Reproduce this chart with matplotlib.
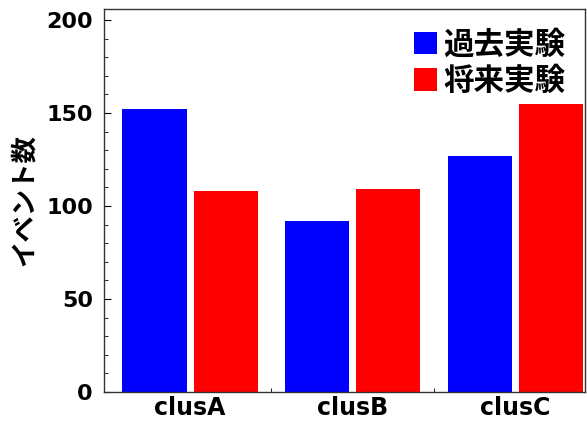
import matplotlib
matplotlib.use('Agg')
import matplotlib.pyplot as plt
import numpy as np
from matplotlib.patches import Patch

plt.rcParams['font.family'] = ['DejaVu Sans', 'Noto Sans CJK JP']

# データ
clusters = ['clusA', 'clusB', 'clusC']
past = [152, 92, 127]       # 過去実験
future = [108, 109, 155]    # 将来実験
series_labels = ['過去実験', '将来実験']
colors = ['#0000ff', '#ff0000']

fig = plt.figure(figsize=(5.87, 4.21), dpi=100)
ax = fig.add_axes([0.177, 0.069, 0.82, 0.91])

x = np.arange(len(clusters))
w = 0.395
off = 0.219
ax.bar(x - off, past, width=w, color=colors[0], zorder=2)
ax.bar(x + off, future, width=w, color=colors[1], zorder=2)

ax.set_xlim(-0.53, 2.43)
ax.set_ylim(0, 206)

# 目盛り
ax.set_yticks([0, 50, 100, 150, 200])
ax.set_yticks(np.arange(0, 210, 10), minor=True)
ax.set_xticks(x)
ax.set_xticklabels(clusters)
bar_centers = np.concatenate([x - off, x + off, [0.5, 1.5]])
ax.set_xticks(bar_centers, minor=True)
ax.tick_params(axis='y', which='major', direction='in', length=5, labelsize=16, pad=8)
ax.tick_params(axis='y', which='minor', direction='in', length=3)
ax.tick_params(axis='x', which='major', length=0, labelsize=17, pad=3)
ax.tick_params(axis='x', which='minor', direction='in', length=3)
for lab in ax.get_xticklabels() + ax.get_yticklabels():
    lab.set_fontweight('bold')

for s in ax.spines.values():
    s.set_color('#333333')
    s.set_linewidth(1.0)

ax.set_ylabel('イベント数', fontsize=19, fontweight='bold',
              family=['Noto Sans CJK JP', 'DejaVu Sans'], labelpad=6)

handles = [Patch(facecolor=c, edgecolor='none') for c in colors]
ax.legend(handles, series_labels, loc='upper right', frameon=False,
          prop={'family': ['Noto Sans CJK JP'], 'weight': 'bold', 'size': 22},
          handlelength=0.75, handleheight=0.75, handletextpad=0.2,
          labelspacing=0.15, borderaxespad=0.35, borderpad=0.3)

fig.savefig('out.png', dpi=100)
plt.close(fig)
